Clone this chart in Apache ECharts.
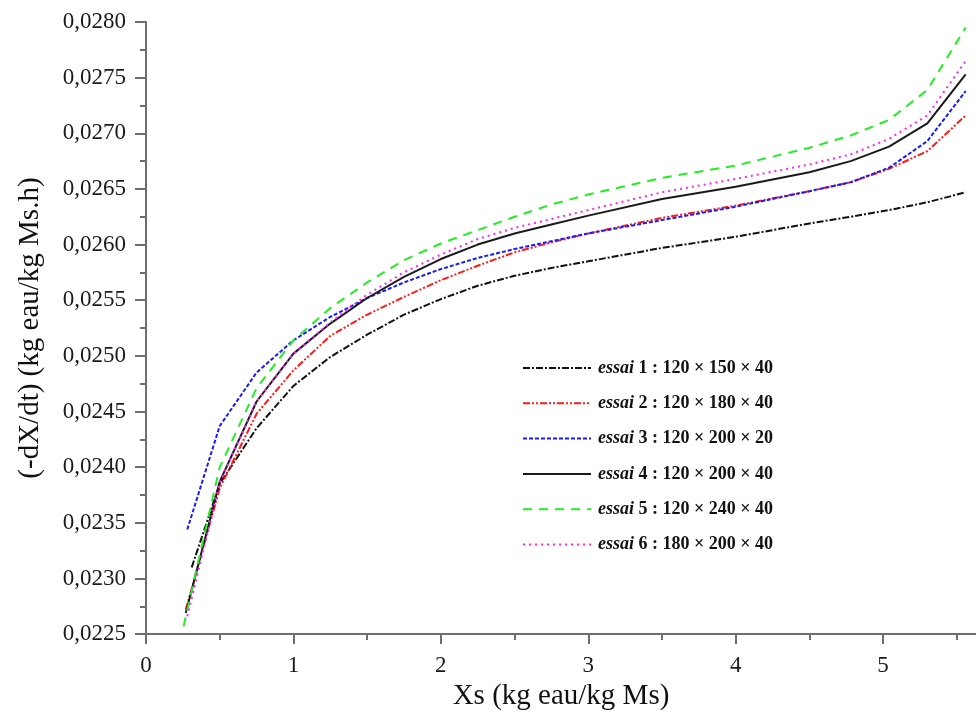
<!DOCTYPE html>
<html><head><meta charset="utf-8">
<script src="https://cdn.jsdelivr.net/npm/echarts@6/dist/echarts.min.js"></script>
<style>html,body{margin:0;padding:0;background:#fff}#c{width:976px;height:716px}</style>
</head><body><div id="c"></div>
<script>
// Shared x values (kg eau/kg Ms) after each curve's own starting point
const xCommon = [0.5,0.75,1.0,1.25,1.5,1.75,2.0,2.25,2.5,2.75,3.0,3.5,4.0,4.5,4.78,5.04,5.3,5.56];
const seriesNames = [
  'essai 1 : 120 × 150 × 40',
  'essai 2 : 120 × 180 × 40',
  'essai 3 : 120 × 200 × 20',
  'essai 4 : 120 × 200 × 40',
  'essai 5 : 120 × 240 × 40',
  'essai 6 : 180 × 200 × 40'
];
const startX = [0.31,0.27,0.28,0.27,0.255,0.28];
const startY = [0.02310,0.02272,0.02344,0.02269,0.02257,0.02266];
const essai1 = [0.02385,0.02435,0.02473,0.02499,0.02519,0.02537,0.02551,0.02563,0.02572,0.02579,0.02585,0.02597,0.02607,0.02619,0.02625,0.02631,0.02638,0.02647];
const essai2 = [0.02381,0.02448,0.02487,0.02518,0.02537,0.02553,0.02568,0.02581,0.02593,0.02602,0.02610,0.02624,0.02635,0.02648,0.02656,0.02668,0.02684,0.02716];
const essai3 = [0.02437,0.02485,0.02514,0.02535,0.02552,0.02566,0.02578,0.02588,0.02596,0.02603,0.02610,0.02622,0.02634,0.02648,0.02656,0.02669,0.02693,0.02738];
const essai4 = [0.02387,0.02459,0.02502,0.02529,0.02552,0.02571,0.02587,0.02600,0.02610,0.02618,0.02626,0.02641,0.02652,0.02665,0.02675,0.02688,0.02709,0.02753];
const essai5 = [0.02400,0.02471,0.02514,0.02543,0.02566,0.02586,0.02601,0.02613,0.02625,0.02636,0.02645,0.02660,0.02671,0.02687,0.02698,0.02712,0.02739,0.02795];
const essai6 = [0.02386,0.02459,0.02502,0.02530,0.02555,0.02575,0.02591,0.02605,0.02615,0.02623,0.02631,0.02647,0.02659,0.02672,0.02681,0.02695,0.02716,0.02765];
const xTickValues = [0,1,2,3,4,5];
const xMinorTickValues = [0.5,1.5,2.5,3.5,4.5,5.5];

const allValues = [essai1, essai2, essai3, essai4, essai5, essai6];
const colors = ['#111111','#ff1a1a','#1a1aff','#1a1a1a','#22ee22','#ff22ff'];
const dashes = [[7,2,2,2],[7,2,2,2,2,2],[4,2],'solid',[9,7],[2,4]];
const serif = 'Liberation Serif, Times New Roman, serif';
const axisColor = '#6e6e6e';

const series = allValues.map((vals, i) => ({
  name: seriesNames[i],
  type: 'line',
  symbol: 'none',
  smooth: false,
  data: [[startX[i], startY[i]]].concat(xCommon.map((x, j) => [x, vals[j]])),
  lineStyle: { color: colors[i], width: 2, type: dashes[i] },
  itemStyle: { color: colors[i] },
  z: 2 + i
}));

const chart = echarts.init(document.getElementById('c'), null, { renderer: 'canvas' });
chart.setOption({
  animation: false,
  backgroundColor: '#fff',
  grid: { left: 146, right: 0, top: 22, bottom: 79 },
  legend: {
    orient: 'vertical',
    left: 517, top: 354,
    itemWidth: 68, itemHeight: 14, itemGap: 17.3,
    data: seriesNames,
    itemStyle: { opacity: 0 },
    formatter: function (name) {
      const k = name.indexOf(' ');
      return '{a|' + name.slice(0, k) + '}{b|' + name.slice(k) + '}';
    },
    textStyle: {
      rich: {
        a: { fontFamily: serif, fontStyle: 'italic', fontWeight: 'bold', fontSize: 18, color: '#111', lineHeight: 20, padding: [0,0,0,2] },
        b: { fontFamily: serif, fontWeight: 'bold', fontSize: 18, color: '#111', lineHeight: 20 }
      }
    }
  },
  xAxis: [{
    type: 'value', min: 0, max: 5.63, interval: 1,
    name: 'Xs (kg eau/kg Ms)', nameLocation: 'middle', nameGap: 42,
    nameTextStyle: { fontFamily: serif, fontSize: 29, color: '#111' },
    axisLine: { show: true, onZero: false, lineStyle: { color: axisColor, width: 2 } },
    axisTick: { show: true, length: 10, customValues: xTickValues, lineStyle: { color: axisColor, width: 2 } },
    axisLabel: { customValues: xTickValues, margin: 20, fontFamily: serif, fontSize: 23, color: '#1a1a1a' },
    splitLine: { show: false }
  }, {
    type: 'value', min: 0, max: 5.63, interval: 0.5, position: 'bottom', gridIndex: 0,
    axisLine: { show: false },
    axisTick: { show: true, length: 6, customValues: xMinorTickValues, lineStyle: { color: axisColor, width: 2 } },
    axisLabel: { show: false },
    splitLine: { show: false }
  }],
  yAxis: {
    type: 'value', min: 0.0225, max: 0.028, interval: 0.0005,
    name: '(-dX/dt) (kg eau/kg Ms.h)', nameLocation: 'middle', nameGap: 101, nameRotate: 90,
    nameTextStyle: { fontFamily: serif, fontSize: 29, color: '#111' },
    axisLine: { show: true, onZero: false, lineStyle: { color: axisColor, width: 2 } },
    axisTick: { show: true, length: 11, lineStyle: { color: axisColor, width: 2 } },
    minorTick: { show: true, splitNumber: 2, length: 6, lineStyle: { color: axisColor, width: 2 } },
    axisLabel: {
      margin: 20, fontFamily: serif, fontSize: 23, color: '#1a1a1a',
      formatter: v => v.toFixed(4).replace('.', ',')
    },
    splitLine: { show: false }
  },
  series: series
});
</script></body></html>
